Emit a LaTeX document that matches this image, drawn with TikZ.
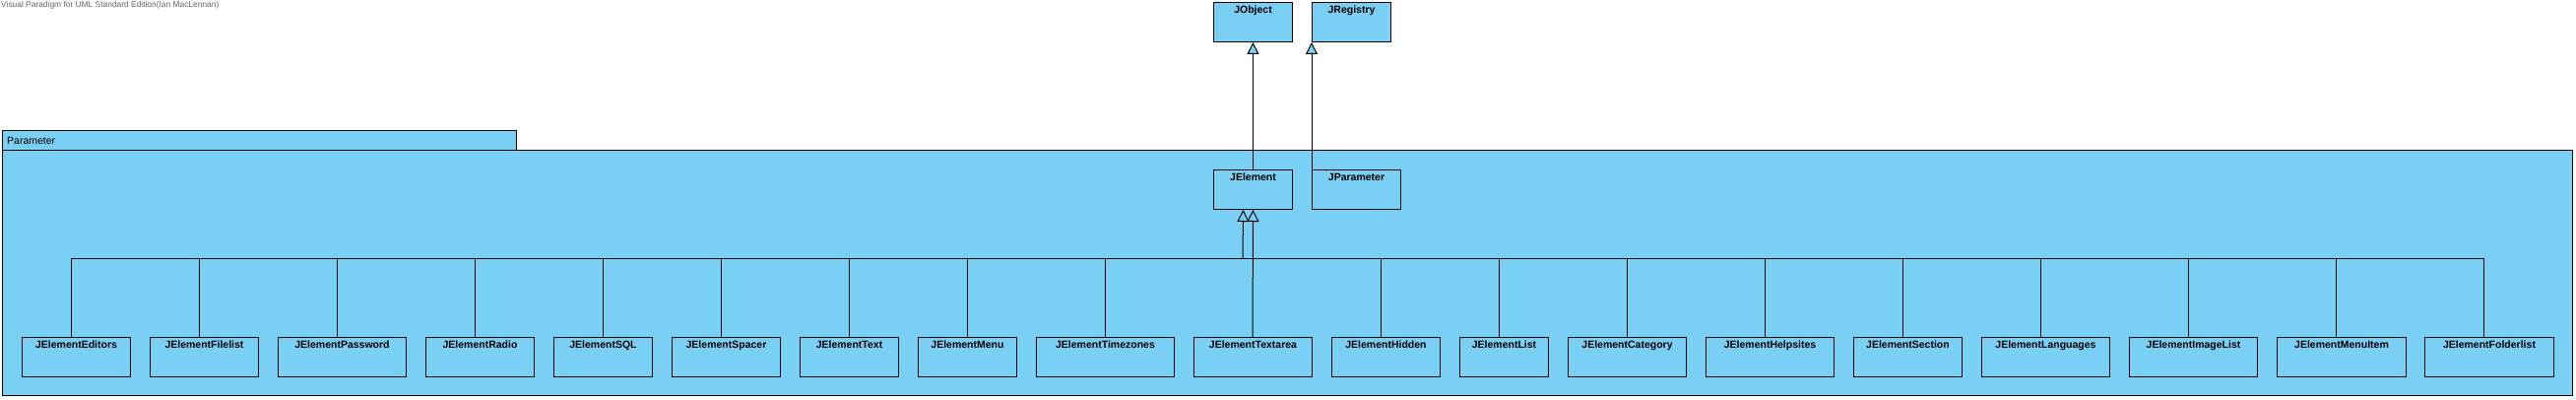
\documentclass[tikz,border=0pt]{standalone}
\usepackage{fontspec}
\setmainfont{Liberation Sans}
\usetikzlibrary{arrows.meta}
\definecolor{umlblue}{RGB}{122,207,245}
\begin{document}
\begin{tikzpicture}[x=1pt,y=-1pt,
  cls/.style={draw, fill=umlblue, line width=1pt, anchor=north west, inner sep=0pt,
    minimum height=40pt, text height=11pt, text depth=29pt,
    font=\bfseries\fontsize{10.5}{12}\selectfont},
  pkgbox/.style={draw, fill=umlblue, line width=1pt, anchor=north west, inner sep=0pt},
  link/.style={line width=1pt},
  gen/.style={line width=1pt, -{Triangle[width=12pt,length=12pt,fill=umlblue]}}]
\useasboundingbox (0,0) rectangle (2616,406);
\node[anchor=north west, inner sep=0pt, text=black!60, font=\fontsize{8.4}{10}\selectfont] (hdr) at (1,1) {Visual Paradigm for UML Standard Edition(Ian MacLennan)};
% package
\node[pkgbox, minimum width=522pt, minimum height=20pt] (pkgtab) at (2,132) {};
\node[pkgbox, minimum width=2610pt, minimum height=249pt] (pkgbody) at (2,152) {};
\node[anchor=base west, inner sep=0pt, font=\fontsize{10.5}{12}\selectfont] (pkgname) at (7,147) {Parameter};
% top classes
\node[cls, minimum width=80pt] (JObject) at (1232,2) {JObject};
\node[cls, minimum width=80pt] (JRegistry) at (1332,2) {JRegistry};
\node[cls, minimum width=80pt] (JElement) at (1232,172) {JElement};
\node[cls, minimum width=90pt] (JParameter) at (1332,172) {JParameter};
% subclasses
\foreach \n/\l/\w in {
  Editors/22/110, Filelist/152/110, Password/282/130, Radio/432/110,
  SQL/562/100, Spacer/682/110, Text/812/100, Menu/932/100,
  Timezones/1052/140, Textarea/1212/120, Hidden/1352/110, List/1482/90,
  Category/1592/120, Helpsites/1732/130, Section/1882/110, Languages/2012/130,
  ImageList/2162/130, MenuItem/2312/131, Folderlist/2462/131}
  \node[cls, minimum width=\w pt] (JElement\n) at (\l,342) {JElement\n};
% generalizations
\draw[gen] (JElement.north) -- (JObject.south);
\draw[gen] (JParameter.north west) -- (JRegistry.south west);
\coordinate (busL) at (72,262);
\coordinate (busR) at (2522,262);
\coordinate (busJ) at (1262,262);
\draw[link] (busL) -- (busR);
\draw[gen] (busJ) -- ([xshift=-10pt]JElement.south);
\draw[gen] ([xshift=60pt]JElementTextarea.north west) -- (JElement.south);
\foreach \n/\o in {
  Editors/50, Filelist/50, Password/60, Radio/50, SQL/50, Spacer/50, Text/50,
  Menu/50, Timezones/70, Hidden/50, List/40, Category/60, Helpsites/60,
  Section/50, Languages/60, ImageList/60, MenuItem/60, Folderlist/60}
  \draw[link] ([xshift=\o pt]JElement\n.north west) -- ([xshift=\o pt]JElement\n.north west |- busL);
\end{tikzpicture}
\end{document}
